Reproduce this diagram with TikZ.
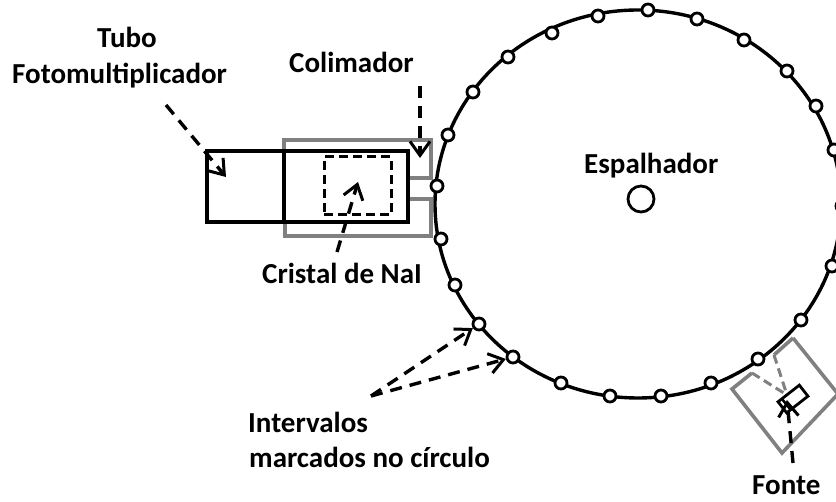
\documentclass[tikz,border=0pt]{standalone}
\usepackage{fontspec}
\setmainfont{Carlito}
\usetikzlibrary{arrows.meta}
\tikzset{
  lbl/.style={font=\fontsize{29}{34}\selectfont\bfseries,inner sep=0pt,anchor=base west},
  mk/.style={circle,draw=black,fill=white,line width=2.8pt,minimum size=12pt,inner sep=0pt},
  body/.style={draw=black,line width=3.4pt,outer sep=0pt},
  shield/.style={draw=black!50,line width=3.6pt},
  shieldd/.style={draw=black!50,line width=3pt,dash pattern=on 9pt off 5pt},
  point/.style={draw=black,line width=3.4pt,dash pattern=on 12pt off 8pt,-{Straight Barb[length=14pt,width=20pt,line width=3pt]}},
}
\begin{document}
\begin{tikzpicture}[x=1pt,y=-1pt]
\useasboundingbox (0,0) rectangle (836,502);
% shields
\draw[shield] (284,151) -- (284,140) -- (431,140) -- (431,178) -- (408,178);
\draw[shield] (408,199) -- (431,199) -- (431,236) -- (285,236) -- (285,222);
\begin{scope}
\clip (0,0) rectangle (836,502);
\draw[shield] (793,338) -- (838,394) -- (782,453) -- (732,389) -- (752,373);
\draw[shield] (774,355) -- (793,338);
\coordinate (srcgap1) at (752,373);
\coordinate (srcgap2) at (774,355);
\coordinate (srcfocus) at (787,395);
\draw[shieldd] (srcgap1) -- (srcfocus);
\draw[shieldd] (srcgap2) -- (srcfocus);
% circle
\draw[black,line width=3.4pt] (638,204) ellipse [x radius=203,y radius=194];
% markers
\foreach \n/\x/\y in {a/648/10,b/598/16,c/552/33,d/508/57,e/473/92,f/448/135,g/437/186,h/441/239,i/455/285,j/479/324,k/513/357,l/561/383,m/610/396,n/661/396,o/711/383,p/758/359,q/801/320,r/832/266,s/842/206,t/834/150,u/816/106,v/787/71,w/744/40,x/697/19}
  \node[mk] (m\n) at (\x,\y) {};
\end{scope}
% detector
\node[body,minimum width=124pt,minimum height=71pt,inner sep=0pt,anchor=north west] (cristalbox) at (284,151) {};
\node[body,minimum width=77pt,minimum height=71pt,inner sep=0pt,anchor=north west] (tubo) at (207,151) {};
\node[draw=black,line width=3pt,dash pattern=on 9pt off 5pt,outer sep=0pt,minimum width=67pt,minimum height=58pt,inner sep=0pt,anchor=north west] (cristal) at (324,157) {};
% source
\node[draw=black,line width=2.8pt,fill=white,minimum width=14pt,minimum height=27pt,inner sep=0pt,rotate=-52] (fonteobj) at (793,399) {};
\coordinate (divA) at (782,399);
\coordinate (divB) at (790,409);
\draw[black,line width=2.5pt] (divA) -- (divB);
\node[circle,draw=black,fill=white,line width=2.8pt,minimum size=26pt,inner sep=0pt] (esp) at (641,199) {};
% labels
\node[lbl] (ltubo) at (97,48) {Tubo};
\node[lbl] (lfoto) at (12,84) {Fotomultiplicador};
\node[lbl] (lcol) at (289,73) {Colimador};
\node[lbl] (lesp) at (584,174) {Espalhador};
\node[lbl] (lcri) at (262,284) {Cristal de NaI};
\node[lbl] (lint1) at (248,433) {Intervalos};
\node[lbl] (lint2) at (249,468) {marcados no círculo};
\node[lbl] (lfon) at (752,495) {Fonte};
% pointers
\coordinate (ptubo) at (166,105);
\coordinate (tubotip) at (226,177);
\coordinate (pcol) at (420,86);
\coordinate (coltip) at (420,158);
\coordinate (pcri) at (337,252);
\coordinate (critip) at (358,182);
\coordinate (pint) at (371,396);
\coordinate (pfon) at (793,463);
\coordinate (fontip) at (787,400);
\draw[point] (ptubo) -- (tubotip);
\draw[point] (pcol) -- (coltip);
\draw[point] (pcri) -- (critip);
\draw[point] (pint) -- (mj);
\draw[point] (pint) -- (mk);
\draw[point] (pfon) -- (fontip);
\end{tikzpicture}
\end{document}
